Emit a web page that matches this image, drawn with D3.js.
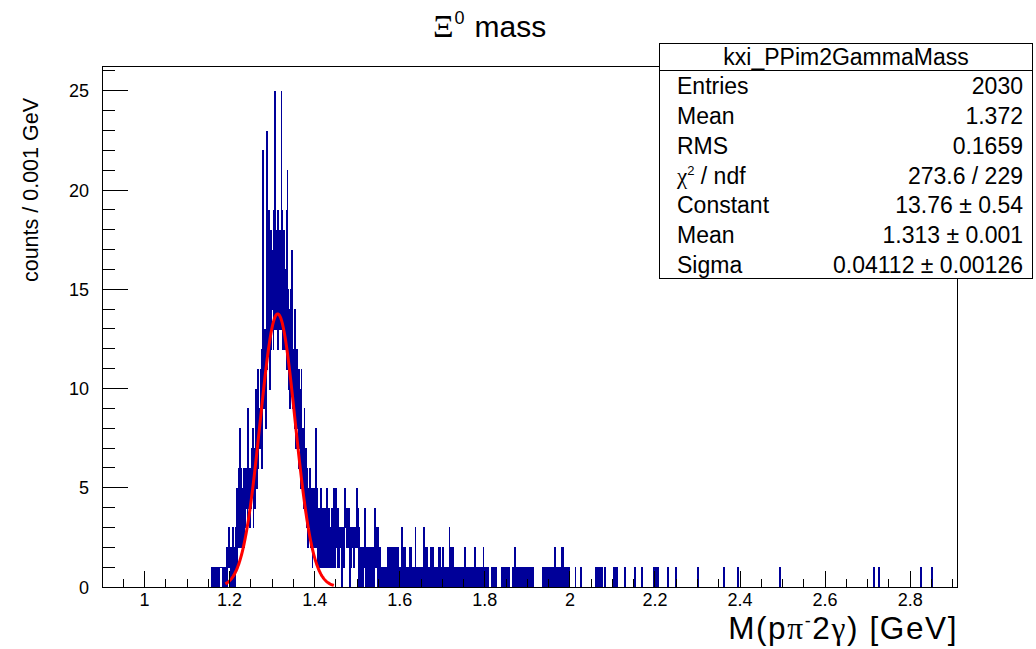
<!DOCTYPE html>
<html>
<head>
<meta charset="utf-8">
<script src="https://d3js.org/d3.v7.min.js"></script>
<style>
  html, body { margin: 0; padding: 0; background: #fff; }
  svg { display: block; }
  text { font-family: "Liberation Sans", Arial, Helvetica, sans-serif; fill: #000; }
</style>
</head>
<body>
<svg id="chart" width="1036" height="649"></svg>
<script>
// ---------------- data ----------------
const xDomain = [0.9, 2.91];
const yDomain = [0, 26.25];
const binWidth = 0.001;

// counts per 0.001 GeV bin, starting at 1.150 GeV
const peakStart = 1.150;
const peakCounts = [
  0,0,0,0,0,0,0,0,1,0,
  1,1,1,1,1,0,0,0,1,1,
  1,1,0,0,0,0,1,1,1,1,
  1,1,1,1,0,1,1,0,1,1,
  0,1,0,2,0,1,1,3,1,2,
  1,0,2,1,0,2,1,3,0,2,
  1,2,0,3,1,2,5,1,3,2,
  4,2,6,3,8,2,4,6,3,2,
  5,3,6,2,4,6,3,5,4,6,
  5,3,6,9,4,5,6,3,5,6,
  4,6,7,5,8,3,6,5,7,4,
  6,8,10,7,5,9,11,6,8,7,
  9,7,11,8,10,6,12,9,22,10,
  11,9,13,10,12,8,14,23,11,13,
  12,19,14,10,15,13,18,12,16,14,
  14,17,12,15,19,13,25,16,14,18,
  13,16,19,12,17,15,14,18,13,16,
  15,25,13,19,12,16,14,18,13,15,
  12,16,14,19,11,21,13,15,10,14,
  12,9,15,11,13,10,17,12,9,11,
  10,12,8,14,9,11,7,10,12,8,
  9,6,11,7,10,8,5,9,11,7,
  6,8,5,7,4,9,6,5,7,4,
  5,3,6,4,2,5,3,4,6,3,
  4,2,5,3,1,4,3,2,5,3,
  2,4,3,8,2,5,1,3,4,2,
  3,1,4,2,5,1,3,2,4,1,
  2,3,1,4,2,3,1,5,2,3,
  1,3,2,4,1,2,3,1,2,4,
  2,1,3,2,5,1,2,4,1,3,
  5,2,4,1,3,4,2,1,3,2
];

// counts per 0.001 GeV bin, starting at 1.460 GeV
const tailStart = 1.460;
const tailCounts = [
  2,3,1,2,0,3,2,1,3,2,
  3,5,4,3,4,2,4,3,2,4,
  3,2,0,2,3,1,2,3,2,3,
  2,3,1,2,2,3,2,3,5,3,
  4,2,0,3,1,2,0,2,1,2,
  0,2,1,0,2,1,2,4,1,2,
  0,2,1,2,0,1,2,0,1,2,
  1,0,2,1,0,1,2,1,0,1,
  2,4,3,2,1,3,2,0,3,1,
  2,1,0,2,1,0,1,1,0,1,
  0,1,1,0,1,0,1,0,1,0,
  1,0,2,1,2,0,2,1,2,0,
  2,1,2,0,2,1,2,1,0,2,
  1,2,0,1,2,0,1,0,1,0,
  1,0,1,0,3,1,0,1,2,0,
  1,0,2,0,1,0,1,0,1,0,
  0,1,2,1,0,2,1,0,1,0,
  1,0,1,0,1,0,3,1,0,1,
  0,1,0,1,1,0,1,0,1,0,
  1,0,1,0,1,3,1,2,0,2,
  1,2,0,1,2,0,1,0,1,0,
  1,0,2,1,0,1,0,2,0,1,
  0,1,0,1,0,1,0,1,0,1,
  0,1,2,0,2,1,0,1,0,1,
  2,0,1,0,1,0,1,0,1,0,
  1,0,1,0,0,1,3,1,2,0,
  1,2,0,1,0,2,1,0,1,0,
  1,0,1,0,1,0,1,0,1,0,
  1,0,1,0,1,0,1,0,1,0,
  1,0,1,2,0,1,0,1,0,1,
  0,1,0,1,0,1,0,1,0,1,
  0,1,0,1,0,2,0,1,0,1,
  0,1,0,1,0,0,1,0,1,0,
  1,0,1,0,1,0,2,1,0,1,
  0,1,0,1,0,1,0,1,0,0,
  0,0,0,0,0,1,0,1,0,1,
  0,1,0,1,0,0,1,0,0,0,
  0,0,0,0,0,0,0,0,0,1,
  0,1,0,1,0,1,0,1,0,1,
  0,1,0,1,0,1,0,0,0,0,
  0,0,0,0,1,0,1,0,1,0,
  2,0,1,0,1,0,1,0,1,0,
  1,0,1,0,0,0,0,1,0,1,
  0,1,0,1,0,1,0,1,0,1,
  0,1,0,1,0,1,0,1,0,1,
  0,1,0,1,0,0,0,0,0,0,
  0,0,0,0,0,0,0,0,0,0,
  0,0,0,0,0,1,0,1,0,1,
  0,1,0,1,0,1,0,1,0,1,
  0,1,0,1,0,1,0,1,0,1,
  0,0,0,2,1,2,0,1,0,1,
  0,1,0,1,0,1,0,1,0,1,
  0,2,1,2,0,1,0,1,0,1,
  0,1,0,1,0,1,0,1,0,0
];

// isolated single entries above 2 GeV (bin positions, GeV)
const farTailBins = [2.012, 2.026, 2.060, 2.062, 2.064, 2.066, 2.068, 2.071, 2.074,
  2.082, 2.102, 2.108, 2.111, 2.129, 2.153, 2.169, 2.197, 2.199, 2.202, 2.205, 2.207,
  2.229, 2.249, 2.300, 2.361, 2.395, 2.493, 2.714, 2.726, 2.824, 2.851];

// Gaussian fit (from stats box)
const fitConstant = 13.76, fitMean = 1.313, fitSigma = 0.04112;
const fitRange = [1.19, 1.445];

const xMajorTicks = [1, 1.2, 1.4, 1.6, 1.8, 2, 2.2, 2.4, 2.6, 2.8];
const xTickLabels = ["1", "1.2", "1.4", "1.6", "1.8", "2", "2.2", "2.4", "2.6", "2.8"];
const yMajorTicks = [0, 5, 10, 15, 20, 25];
const yTickLabels = ["0", "5", "10", "15", "20", "25"];

const statsTitle = "kxi_PPim2GammaMass";
const statsNames = ["Entries", "Mean", "RMS", "\u03C7\u00B2 / ndf", "Constant", "Mean", "Sigma"];
const statsValues = ["2030", "1.372", "0.1659", "273.6 / 229", "13.76 \u00B1 0.54", "1.313 \u00B1 0.001", "0.04112 \u00B1 0.00126"];

// ---------------- layout ----------------
const frame = { left: 102, right: 957, top: 66, bottom: 587 };
const histColor = "#000099";

const svg = d3.select("#chart");
const x = d3.scaleLinear().domain(xDomain).range([frame.left, frame.right]);
const y = d3.scaleLinear().domain(yDomain).range([frame.bottom, frame.top]);

// build bins
const nBins = Math.round((xDomain[1] - xDomain[0]) / binWidth);
const counts = new Array(nBins).fill(0);
const i0p = Math.round((peakStart - xDomain[0]) / binWidth);
peakCounts.forEach((c, j) => counts[i0p + j] += c);
const i0t = Math.round((tailStart - xDomain[0]) / binWidth);
tailCounts.forEach((c, j) => counts[i0t + j] += c);
farTailBins.forEach(v => counts[Math.floor((v - xDomain[0]) / binWidth + 1e-6)] += 1);

// histogram outline rasterised per screen column (as the original renderer does):
// each column shows the span of the bins it covers plus the step from the previous bin
const cols = [];
for (let c = frame.left; c < frame.right; c++) {
  const v0 = x.invert(c), v1 = x.invert(c + 1);
  const iA = Math.max(0, Math.floor((v0 - xDomain[0]) / binWidth) - 1);
  const iB = Math.min(nBins - 1, Math.floor((v1 - xDomain[0]) / binWidth - 1e-9));
  let lo = Infinity, hi = -Infinity;
  for (let i = iA; i <= iB; i++) { lo = Math.min(lo, counts[i]); hi = Math.max(hi, counts[i]); }
  if (hi > 0) cols.push({ c, lo, hi });
}
svg.append("g").attr("shape-rendering", "crispEdges")
  .selectAll("rect").data(cols).join("rect")
  .attr("x", d => d.c)
  .attr("y", d => Math.round(y(d.hi)))
  .attr("width", 1)
  .attr("height", d => Math.max(1, Math.round(y(d.lo)) - Math.round(y(d.hi)) + 1))
  .attr("fill", histColor);

// fit curve
const fitPts = d3.range(fitRange[0], fitRange[1] + 1e-9, 0.001).map(v =>
  [v, fitConstant * Math.exp(-0.5 * Math.pow((v - fitMean) / fitSigma, 2))]);
svg.append("path").attr("d", d3.line().x(d => x(d[0])).y(d => y(d[1]))(fitPts))
  .attr("fill", "none").attr("stroke", "#ff0000").attr("stroke-width", 3)
  .attr("stroke-linejoin", "round");

// frame
svg.append("rect").attr("x", frame.left + 0.5).attr("y", frame.top + 0.5)
  .attr("width", frame.right - frame.left).attr("height", frame.bottom - frame.top)
  .attr("fill", "none").attr("stroke", "#000").attr("stroke-width", 1);

// x axis ticks (inside)
const xMinor = d3.range(0.95, 2.91, 0.05).filter(v => v <= xDomain[1]);
const xAx = svg.append("g").attr("shape-rendering", "crispEdges");
xMinor.forEach(v => {
  const isMajor = xMajorTicks.some(m => Math.abs(m - v) < 1e-6);
  const len = isMajor ? 16 : 8;
  xAx.append("line").attr("x1", x(v)).attr("x2", x(v))
    .attr("y1", frame.bottom).attr("y2", frame.bottom - len)
    .attr("stroke", "#000").attr("stroke-width", 1);
});
xMajorTicks.forEach((v, i) => {
  svg.append("text").attr("x", x(v)).attr("y", 605.5).attr("text-anchor", "middle")
    .attr("font-size", 18).attr("fill", "#222").text(xTickLabels[i]);
});

// y axis ticks (inside)
const yAx = svg.append("g").attr("shape-rendering", "crispEdges");
d3.range(0, 27, 1).filter(v => v <= yDomain[1]).forEach(v => {
  const isMajor = v % 5 === 0;
  const len = isMajor ? 26 : 13;
  yAx.append("line").attr("x1", frame.left).attr("x2", frame.left + len)
    .attr("y1", y(v)).attr("y2", y(v)).attr("stroke", "#000").attr("stroke-width", 1);
});
yMajorTicks.forEach((v, i) => {
  svg.append("text").attr("x", 89).attr("y", y(v) + 6.5).attr("text-anchor", "end")
    .attr("font-size", 18).attr("fill", "#222").text(yTickLabels[i]);
});

// axis titles
const xt = svg.append("text").attr("x", 958).attr("y", 639).attr("text-anchor", "end")
  .attr("font-size", 31.5).attr("letter-spacing", 1.6).attr("fill", "#111");
xt.append("tspan").text("M(p");
xt.append("tspan").attr("font-family", "Liberation Serif").text("\u03C0");
xt.append("tspan").attr("font-size", 18).attr("dy", -12).text("-");
xt.append("tspan").attr("dy", 12).text("2");
xt.append("tspan").attr("font-family", "Liberation Serif").text("\u03B3");
xt.append("tspan").text(") [GeV]");

svg.append("text").attr("transform", "translate(38,98) rotate(-90)")
  .attr("text-anchor", "end").attr("font-size", 21.5).attr("fill", "#111")
  .text("counts / 0.001 GeV");

// title
const tt = svg.append("text").attr("x", 433).attr("y", 37).attr("font-size", 30).attr("fill", "#111");
tt.append("tspan").attr("font-family", "Liberation Serif").attr("font-size", 32).text("\u039E");
tt.append("tspan").attr("font-size", 18).attr("dy", -13).attr("dx", 1).text("0");
tt.append("tspan").attr("dy", 13).attr("dx", 10).text("mass");

// stats box
const sb = { x: 659.5, y: 43.5, w: 373, h: 235, head: 27 };
const sg = svg.append("g");
sg.append("rect").attr("x", sb.x).attr("y", sb.y).attr("width", sb.w).attr("height", sb.h)
  .attr("fill", "#fff").attr("stroke", "#000").attr("stroke-width", 1);
sg.append("line").attr("x1", sb.x).attr("x2", sb.x + sb.w)
  .attr("y1", sb.y + sb.head).attr("y2", sb.y + sb.head).attr("stroke", "#000");
sg.append("text").attr("x", sb.x + sb.w / 2).attr("y", sb.y + 21).attr("text-anchor", "middle")
  .attr("font-size", 23).attr("fill", "#111").text(statsTitle);
const rowH = (sb.h - sb.head) / statsNames.length;
statsNames.forEach((n, i) => {
  const cy = sb.y + sb.head + rowH * (i + 0.5) + 9;
  const t = sg.append("text").attr("x", 677).attr("y", cy).attr("font-size", 23).attr("fill", "#111");
  if (i === 3) {
    t.append("tspan").attr("font-family", "Liberation Serif").text("\u03C7");
    t.append("tspan").attr("font-size", 13).attr("dy", -9).text("2");
    t.append("tspan").attr("dy", 9).text(" / ndf");
  } else {
    t.text(n);
  }
  sg.append("text").attr("x", 1023).attr("y", cy).attr("text-anchor", "end")
    .attr("font-size", 23).attr("fill", "#111").text(statsValues[i]);
});
</script>
</body>
</html>
